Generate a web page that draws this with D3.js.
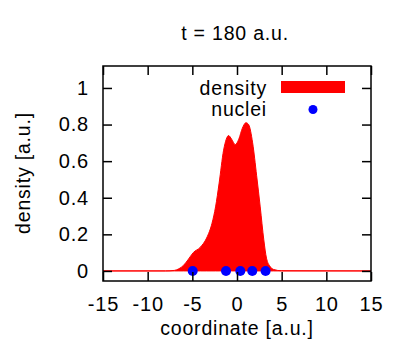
<!DOCTYPE html>
<html>
<head>
<meta charset="utf-8">
<script src="https://cdn.jsdelivr.net/npm/d3@7"></script>
<style>
  body { margin: 0; background: #fff; }
</style>
</head>
<body>
<div id="chart"></div>
<script>
// density profile
const densX = [-15, -8, -7, -6.5, -6.0, -5.5, -4.9, -4.1, -3.4, -2.8, -2.4, -2.0, -1.5, -1.2, -0.95, -0.6, -0.2, 0.2, 0.6, 1.0, 1.3, 1.75, 2.2, 2.6, 3.0, 3.3, 3.7, 4.1, 5, 15];
const densY = [0, 0, 0.003, 0.012, 0.03, 0.06, 0.10, 0.13, 0.18, 0.26, 0.35, 0.48, 0.66, 0.72, 0.74, 0.72, 0.69, 0.72, 0.78, 0.81, 0.80, 0.70, 0.52, 0.35, 0.17, 0.07, 0.025, 0.008, 0.001, 0];
// nuclei positions
const nucleiX = [-4.96, -1.23, 0.37, 1.71, 3.2];
const xTicks = [-15, -10, -5, 0, 5, 10, 15];
const yTicks = [0, 0.2, 0.4, 0.6, 0.8, 1];

const width = 407, height = 341;
const margin = {top: 66, right: 36, bottom: 60, left: 103};
const w = width - margin.left - margin.right,
      h = height - margin.top - margin.bottom;
const font = "'Liberation Sans', Arial, sans-serif";
const fsize = "19.5px";

const svg = d3.select("#chart").append("svg")
    .attr("width", width)
    .attr("height", height);

const g = svg.append("g")
    .attr("transform", `translate(${margin.left}, ${margin.top})`);

const x = d3.scaleLinear().domain([-15, 15]).range([0, w]);
const y = d3.scaleLinear().domain([-0.055, 1.12]).range([h, 0]);

// density fill
const dens = densX.map((d, i) => ({x: d, y: densY[i]}));
g.append("path")
    .datum(dens)
    .attr("fill", "#ff0000")
    .attr("stroke", "#ff0000")
    .attr("stroke-width", 1)
    .attr("d", d3.area()
        .x(d => x(d.x))
        .y0(y(0))
        .y1(d => y(d.y))
        .curve(d3.curveMonotoneX));

// nuclei
g.selectAll(".nuc")
    .data(nucleiX)
    .join("circle")
    .attr("class", "nuc")
    .attr("cx", d => x(d))
    .attr("cy", y(0))
    .attr("r", 5)
    .attr("fill", "#0000ff");

// axes with inward ticks, mirrored
const tick = 9;
const fmt = d => d3.format("~g")(d).replace("−", "-");
g.append("g")
    .attr("transform", `translate(0, ${h})`)
    .call(d3.axisBottom(x).tickValues(xTicks).tickSizeInner(-tick).tickSizeOuter(0).tickPadding(16).tickFormat(fmt))
    .call(a => a.select(".domain").remove());
g.append("g")
    .call(d3.axisTop(x).tickValues(xTicks).tickSizeInner(-tick).tickSizeOuter(0).tickFormat(""))
    .call(a => a.select(".domain").remove());
g.append("g")
    .call(d3.axisLeft(y).tickValues(yTicks).tickSizeInner(-tick).tickSizeOuter(0).tickPadding(14).tickFormat(fmt))
    .call(a => a.select(".domain").remove());
g.append("g")
    .attr("transform", `translate(${w}, 0)`)
    .call(d3.axisRight(y).tickValues(yTicks).tickSizeInner(-tick).tickSizeOuter(0).tickFormat(""))
    .call(a => a.select(".domain").remove());

g.selectAll(".tick line").attr("stroke", "#000").attr("stroke-width", 1.5);
g.selectAll("g").attr("font-family", font).attr("font-size", fsize);
g.selectAll(".tick text")
    .attr("font-family", font)
    .attr("font-size", "20px")
    .attr("letter-spacing", "0.8px")
    .attr("fill", "#000");

g.append("rect")
    .attr("width", w)
    .attr("height", h)
    .attr("fill", "none")
    .attr("stroke", "#000")
    .attr("stroke-width", 1.5);

// helper for plain labels
function label(parent, tx, ty, str, anchor) {
    return parent.append("text")
        .attr("x", tx).attr("y", ty)
        .attr("text-anchor", anchor)
        .attr("font-family", font)
        .attr("font-size", fsize)
        .attr("letter-spacing", "0.8px")
        .attr("fill", "#000")
        .text(str);
}

// legend
label(g, 164, 29, "density", "end");
g.append("rect")
    .attr("x", 178).attr("y", 15)
    .attr("width", 64).attr("height", 12)
    .attr("fill", "#ff0000");
label(g, 164, 50, "nuclei", "end");
g.append("circle")
    .attr("cx", 210).attr("cy", 43.5)
    .attr("r", 4.5)
    .attr("fill", "#0000ff");

// titles
label(svg, 235, 40, "t = 180 a.u.", "middle");
label(svg, 237, 335, "coordinate [a.u.]", "middle");
label(svg, 0, 0, "density [a.u.]", "middle")
    .attr("transform", "translate(30, 173) rotate(-90)");
</script>
</body>
</html>
